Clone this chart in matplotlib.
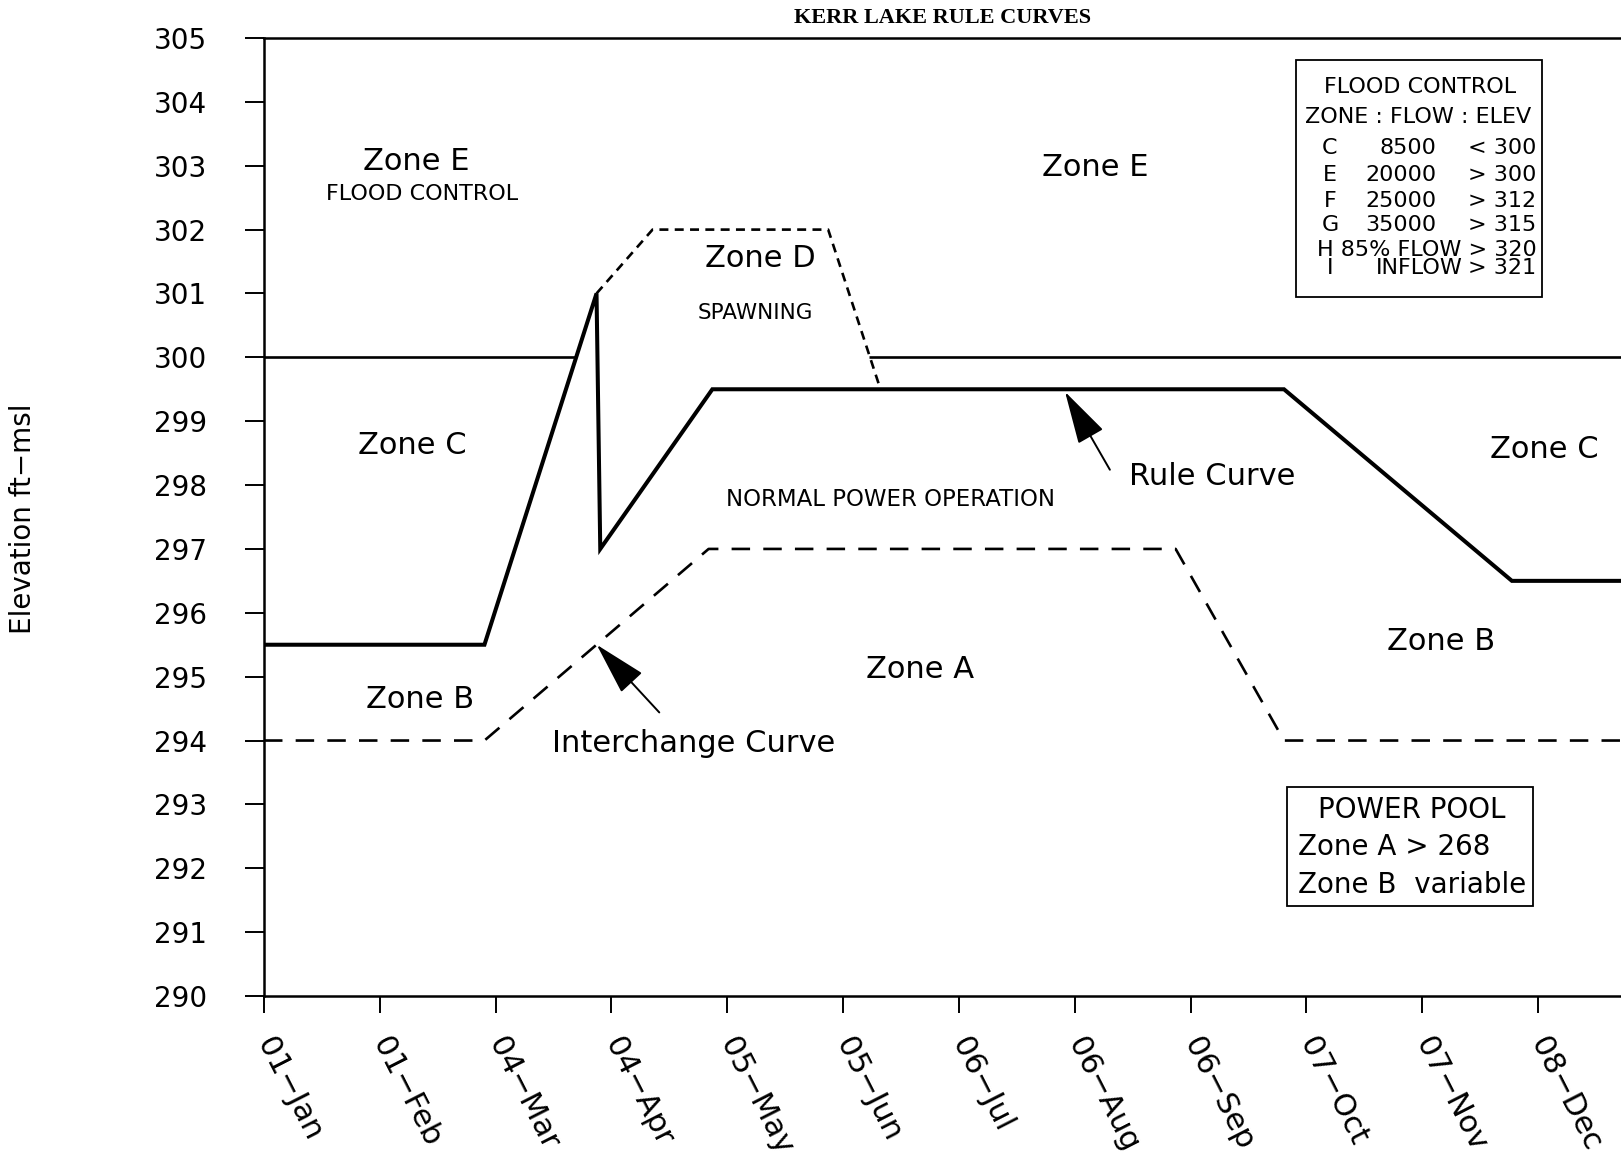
import matplotlib as mpl
import matplotlib.pyplot as plt
from matplotlib.patches import Rectangle

mpl.rcParams.update({
    "font.family": "DejaVu Sans",
    "lines.solid_capstyle": "butt",
})

# Kerr Lake guide curves: day of year vs elevation (ft-msl)
rule_day = [1, 60, 90, 91, 121, 274, 335, 366]
rule_elev = [295.5, 295.5, 301.0, 297.0, 299.5, 299.5, 296.5, 296.5]

interchange_day = [1, 60, 120, 245, 274, 366]
interchange_elev = [294.0, 294.0, 297.0, 297.0, 294.0, 294.0]

spawn_day = [90, 105, 152, 166]
spawn_elev = [301.0, 302.0, 302.0, 299.5]

flood_day_early = [1, 84.5]
flood_day_late = [163, 366]
flood_elev = 300.0

tick_days = [1, 32, 63, 94, 125, 156, 187, 218, 249, 280, 311, 342]
tick_labels = ["01\u2212Jan", "01\u2212Feb", "04\u2212Mar", "04\u2212Apr",
               "05\u2212May", "05\u2212Jun", "06\u2212Jul", "06\u2212Aug",
               "06\u2212Sep", "07\u2212Oct", "07\u2212Nov", "08\u2212Dec"]

flood_zones = ["C", "E", "F", "G"]
flood_flows = ["8500", "20000", "25000", "35000"]
flood_elevs = ["< 300", "> 300", "> 312", "> 315"]

fig = plt.figure(figsize=(16.21, 11.56), dpi=100)
ax = fig.add_axes([264 / 1621, 1 - 996 / 1156, 1 - 264 / 1621, (996 - 38) / 1156])

ax.plot(flood_day_early, [flood_elev] * 2, color="black", lw=1.9)
ax.plot(flood_day_late, [flood_elev] * 2, color="black", lw=1.9)
ax.plot(rule_day, rule_elev, color="black", lw=2.9, solid_joinstyle="miter")
ax.plot(interchange_day, interchange_elev, color="black", lw=1.9,
        dashes=(7.0, 5.0))
ax.plot(spawn_day, spawn_elev, color="black", lw=1.9, dashes=(3.4, 2.4))

ax.set_xlim(1, 364.2)
ax.set_ylim(290, 305)
ax.set_yticks(range(290, 306))
ax.set_xticks(tick_days)
ax.set_xticklabels(tick_labels, rotation=-63, ha="left", va="center",
                   rotation_mode="anchor")

for side in ["left", "bottom", "top"]:
    ax.spines[side].set_linewidth(1.8)
ax.spines["right"].set_visible(False)
ax.tick_params(axis="y", length=13.7, width=1.4, pad=27, labelsize=20)
ax.tick_params(axis="x", length=12, width=1.4, pad=19, labelsize=22)

# zone labels
txt = dict(ha="center", va="center", color="black")
ax.text(41.8, 303.06, "Zone E", fontsize=22, **txt)
ax.text(43.2, 302.55, "FLOOD CONTROL", fontsize=16, **txt)
ax.text(223.4, 302.97, "Zone E", fontsize=22, **txt)
ax.text(133.9, 301.54, "Zone D", fontsize=22, **txt)
ax.text(132.5, 300.69, "SPAWNING", fontsize=15.5, **txt)
ax.text(40.8, 298.62, "Zone C", fontsize=22, **txt)
ax.text(343.6, 298.55, "Zone C", fontsize=22, **txt)
ax.text(168.8, 297.77, "NORMAL POWER OPERATION", fontsize=16.5, **txt)
ax.text(316.0, 295.55, "Zone B", fontsize=22, **txt)
ax.text(176.7, 295.12, "Zone A", fontsize=22, **txt)
ax.text(42.7, 294.65, "Zone B", fontsize=22, **txt)
ax.text(116.1, 293.96, "Interchange Curve", fontsize=22, **txt)
ax.text(254.9, 298.13, "Rule Curve", fontsize=22, **txt)

arrow = dict(arrowstyle="-|>,head_length=2.4,head_width=0.65",
             mutation_scale=14, lw=1.4, color="black", shrinkA=0, shrinkB=0)
ax.annotate("", xy=(215.4, 299.46), xytext=(227.4, 298.24), arrowprops=arrow)
ax.annotate("", xy=(90.05, 295.50), xytext=(106.8, 294.44), arrowprops=arrow)

# flood control table
ax.add_patch(Rectangle((277.2, 300.95), 343.0 - 277.2, 304.66 - 300.95,
                       fill=False, ec="black", lw=1.3))
ax.text(310.4, 304.24, "FLOOD CONTROL", fontsize=16, **txt)
ax.text(309.9, 303.77, "ZONE : FLOW : ELEV", fontsize=16, **txt)
row_y = [303.28, 302.86, 302.44, 302.07]
for y, z, f, e in zip(row_y, flood_zones, flood_flows, flood_elevs):
    ax.text(286.3, y, z, fontsize=16, ha="center", va="center")
    ax.text(314.9, y, f, fontsize=16, ha="right", va="center")
    ax.text(341.6, y, e, fontsize=16, ha="right", va="center")
ax.text(312.2, 301.68, "H 85% FLOW > 320", fontsize=16, **txt)
ax.text(286.3, 301.40, "I", fontsize=16, ha="center", va="center")
ax.text(321.9, 301.40, "INFLOW", fontsize=16, ha="right", va="center")
ax.text(341.6, 301.40, "> 321", fontsize=16, ha="right", va="center")

# power pool box
ax.add_patch(Rectangle((274.7, 291.41), 340.7 - 274.7, 293.27 - 291.41,
                       fill=False, ec="black", lw=1.3))
ax.text(308.2, 292.91, "POWER POOL", fontsize=20, **txt)
ax.text(277.8, 292.34, "Zone A > 268", fontsize=20, ha="left", va="center")
ax.text(277.8, 291.74, "Zone B  variable", fontsize=20, ha="left", va="center")

fig.text(942.5 / 1621, 1 - 17.6 / 1156, "KERR LAKE RULE CURVES",
         family="Liberation Serif", weight="bold", fontsize=16,
         ha="center", va="center")
fig.text(22.7 / 1621, 1 - 519 / 1156, "Elevation ft\u2212msl", fontsize=20,
         rotation=90, ha="center", va="center")

fig.savefig("out.png", dpi=100)
